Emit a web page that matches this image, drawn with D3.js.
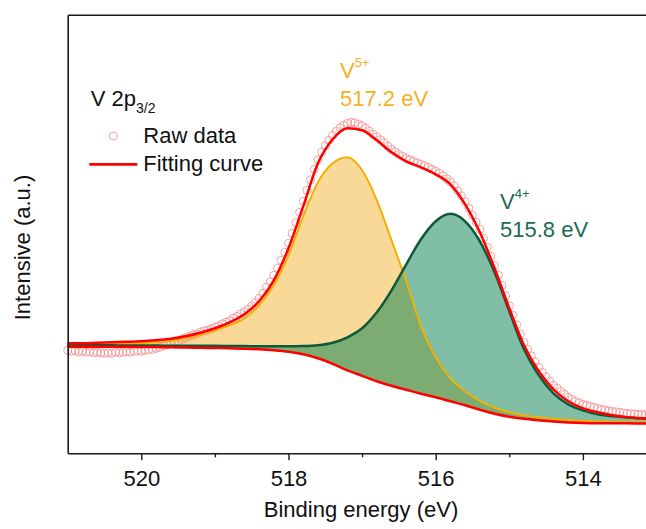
<!DOCTYPE html>
<html>
<head>
<meta charset="utf-8">
<script src="https://cdn.jsdelivr.net/npm/d3@7"></script>
<style>
  body { margin: 0; background: #fff; }
  svg text { font-family: Arial, "Liberation Sans", sans-serif; }
</style>
</head>
<body>
<div id="chart"></div>
<script>
// Binding energy grid for the fitted components (eV)
var gridEV = [521.0, 520.8, 520.6, 520.4, 520.2, 520.0, 519.8, 519.6, 519.4, 519.2,
              519.0, 518.8, 518.6, 518.4, 518.2, 518.0, 517.8, 517.6, 517.4, 517.2,
              517.0, 516.8, 516.6, 516.4, 516.2, 516.0, 515.8, 515.6, 515.4, 515.2,
              515.0, 514.8, 514.6, 514.4, 514.2, 514.0, 513.8, 513.6, 513.4, 513.2,
              513.0];

// Shirley-like background
var background = [106.5, 106.5, 106.5, 106.5, 106.5, 106.3, 106.2, 106, 105.8, 105.5,
                  105.3, 105, 104.6, 104, 103, 101.5, 99, 95, 89.5, 83,
                  77.5, 72, 67.5, 63.5, 59.5, 56, 52, 48, 43.5, 39.5,
                  36.5, 34.5, 33, 31.7, 30.8, 30.2, 30, 30, 30, 29.8,
                  29.7];

// V5+ component (517.2 eV)
var v5Peak = [109, 109, 109, 109.2, 109.5, 110, 111, 112.5, 115, 118.5,
              123, 128, 135, 148, 168, 198, 237, 271, 290, 296,
              283, 253, 213, 172, 127, 96, 75, 62, 52.5, 45.5,
              41, 38, 36, 34.5, 33.5, 32.5, 32, 31.5, 31.2, 31,
              31];

// V4+ component (515.8 eV)
var v4Peak = [108, 108, 108, 108, 107.8, 107.8, 107.7, 107.6, 107.5, 107.5,
              107.5, 107.3, 107.2, 107, 107, 107, 107.2, 108, 110.5, 116,
              125, 141, 163, 189, 214, 232, 239.5, 232, 212, 181,
              142, 104, 78, 60, 49, 43, 39, 37, 36, 35,
              34.5];

// Envelope (fitting curve)
var fitCurve = [110, 110, 110.5, 111, 111.5, 112, 113, 114.5, 117, 120.5,
                125, 131, 139, 152, 173, 205, 247, 290, 314, 325,
                323, 313, 301, 292, 286, 279, 269, 249, 221, 185,
                145, 108, 82, 64, 52, 45, 41, 38, 36, 35,
                34.5];

// Raw data, 521.00 -> 513.00 eV, 0.05 eV step
var rawStart = 521.0, rawStep = 0.05;
var rawData = [103, 102, 102.5, 101.5, 102, 101, 101.5, 100.5, 101, 100.5,
               100, 100.5, 100, 101, 100.5, 101, 101.5, 101, 102, 102.5,
               102, 103, 103.5, 104, 105, 106, 107.5, 108.5, 110, 110.5,
               112, 114, 115.5, 117, 118.5, 119.5, 121, 122.5, 123, 124.5,
               126, 127.5, 129.5, 131, 132.5, 135, 137, 139.5, 141.5, 144,
               147.5, 151, 155, 160, 166, 171.5, 178, 185, 193, 201,
               210, 220, 230.5, 241, 252, 263, 273.5, 284, 293.5, 301,
               307.5, 313, 318, 322, 325.5, 328, 330, 331, 330.5, 329,
               327.5, 325, 322, 319, 316.5, 313.5, 310.5, 307, 304, 301.5,
               299, 297, 295, 293.5, 292, 290.5, 289, 287.5, 286, 284,
               282, 280, 277.5, 274.5, 271.5, 267.5, 262.5, 257.5, 251.5, 245,
               238, 231, 224, 215, 206, 197, 188, 178, 168, 157.5,
               147.5, 138, 128.5, 119.5, 111, 104, 97.5, 91.5, 86, 81,
               76.5, 72, 68, 65, 62, 59, 56, 54, 52, 50.5,
               49, 48, 47, 46, 45, 44, 43.5, 42.5, 42, 41.5,
               41, 40.5, 40, 39.5, 39.5, 39, 39, 38.5, 38.5, 38,
               38];

var majorTicks = [520, 518, 516, 514];
var minorTicks = [519, 517, 515, 513];

var W = 646, H = 529;
var plotLeft = 67.7, plotTop = 14.7, plotBottom = 453.3;

var svg = d3.select("#chart").append("svg")
    .attr("width", W)
    .attr("height", H);

var x = d3.scaleLinear().domain([521, 513]).range([plotLeft, 656.5]);
var y = d3.scaleLinear().domain([0, 438.6]).range([plotBottom, plotTop]);

var comp = gridEV.map(function (e, i) {
    return { e: e, bg: background[i], v5: v5Peak[i], v4: v4Peak[i], fit: fitCurve[i] };
});
var raw = rawData.map(function (v, i) { return { e: rawStart - i * rawStep, v: v }; });

var plot = svg.append("g");

function areaOf(key) {
    return d3.area()
        .x(function (d) { return x(d.e); })
        .y0(function (d) { return y(d.bg); })
        .y1(function (d) { return y(d[key]); })
        .curve(d3.curveMonotoneX);
}
function lineOf(key) {
    return d3.line()
        .x(function (d) { return x(d.e); })
        .y(function (d) { return y(d[key]); })
        .curve(d3.curveMonotoneX);
}

// fills
plot.append("path").datum(comp).attr("d", areaOf("v5"))
    .attr("fill", "rgb(242,180,50)").attr("fill-opacity", 0.5);
plot.append("path").datum(comp).attr("d", areaOf("v4"))
    .attr("fill", "rgb(1,127,77)").attr("fill-opacity", 0.5);

// raw data
plot.selectAll("circle.raw")
    .data(raw)
    .enter()
    .append("circle")
    .attr("class", "raw")
    .attr("cx", function (d) { return x(d.e); })
    .attr("cy", function (d) { return y(d.v); })
    .attr("r", 4)
    .attr("fill", "none")
    .attr("stroke", "#f28c8c")
    .attr("stroke-width", 0.8);

// component lines
plot.append("path").datum(comp).attr("d", lineOf("v5"))
    .attr("fill", "none").attr("stroke", "#f2b000").attr("stroke-width", 2);
plot.append("path").datum(comp).attr("d", lineOf("v4"))
    .attr("fill", "none").attr("stroke", "#0d5a3b").attr("stroke-width", 2.5);
plot.append("path").datum(comp).attr("d", lineOf("bg"))
    .attr("fill", "none").attr("stroke", "#ff0000").attr("stroke-width", 2.5);
plot.append("path").datum(comp).attr("d", lineOf("fit"))
    .attr("fill", "none").attr("stroke", "#ff0000").attr("stroke-width", 2.5);

// axes
var axisColor = "#1a1a1a";
var xAxis = svg.append("g")
    .attr("transform", "translate(0," + plotBottom + ")")
    .call(d3.axisBottom(x).tickValues(majorTicks).tickFormat(d3.format("d"))
        .tickSizeInner(7).tickSizeOuter(0).tickPadding(10));
svg.append("g")
    .attr("transform", "translate(0," + plotBottom + ")")
    .call(d3.axisBottom(x).tickValues(minorTicks).tickFormat("")
        .tickSizeInner(4).tickSizeOuter(0))
    .select(".domain").remove();
svg.append("g")
    .attr("transform", "translate(0," + plotTop + ")")
    .call(d3.axisTop(x).tickValues([]).tickSizeOuter(0));
svg.append("g")
    .attr("transform", "translate(" + plotLeft + ",0)")
    .call(d3.axisLeft(y).tickValues([]).tickSizeOuter(0));

svg.selectAll(".domain").attr("stroke", axisColor).attr("stroke-width", 1.6);
svg.selectAll(".tick line").attr("stroke", axisColor).attr("stroke-width", 1.4);
xAxis.selectAll("text").attr("font-size", 22).attr("fill", "#111")
    .style("font-family", "Arial, 'Liberation Sans', sans-serif");

// axis titles
svg.append("text")
    .attr("x", 361).attr("y", 517)
    .attr("text-anchor", "middle")
    .attr("font-size", 22).attr("fill", "#111")
    .text("Binding energy (eV)");
svg.append("text")
    .attr("transform", "translate(29.5,247.5) rotate(-90)")
    .attr("text-anchor", "middle")
    .attr("font-size", 22).attr("fill", "#111")
    .text("Intensive (a.u.)");

// title + legend
var title = svg.append("text").attr("x", 90.7).attr("y", 106)
    .attr("font-size", 22).attr("fill", "#111");
title.append("tspan").text("V 2p");
title.append("tspan").attr("font-size", 14).attr("dy", 7).text("3/2");

svg.append("circle").attr("cx", 113.3).attr("cy", 136).attr("r", 4)
    .attr("fill", "none").attr("stroke", "#f28c8c").attr("stroke-width", 0.8);
svg.append("text").attr("x", 143.3).attr("y", 143.3)
    .attr("font-size", 22).attr("fill", "#111").text("Raw data");
svg.append("line").attr("x1", 89.3).attr("x2", 137.3).attr("y1", 164.3).attr("y2", 164.3)
    .attr("stroke", "#ff0000").attr("stroke-width", 2.7);
svg.append("text").attr("x", 143.3).attr("y", 170.7)
    .attr("font-size", 22).attr("fill", "#111").text("Fitting curve");

// peak annotations
function peakLabel(px, py, charge, energy, color) {
    var t1 = svg.append("text").attr("x", px).attr("y", py)
        .attr("font-size", 22).attr("fill", color);
    t1.append("tspan").text("V");
    t1.append("tspan").attr("font-size", 13).attr("dy", -11).text(charge);
    svg.append("text").attr("x", px).attr("y", py + 28)
        .attr("font-size", 22).attr("fill", color).text(energy);
}
peakLabel(340, 77.5, "5+", "517.2 eV", "#f2b223");
peakLabel(500, 208.5, "4+", "515.8 eV", "#1d6a52");
</script>
</body>
</html>
